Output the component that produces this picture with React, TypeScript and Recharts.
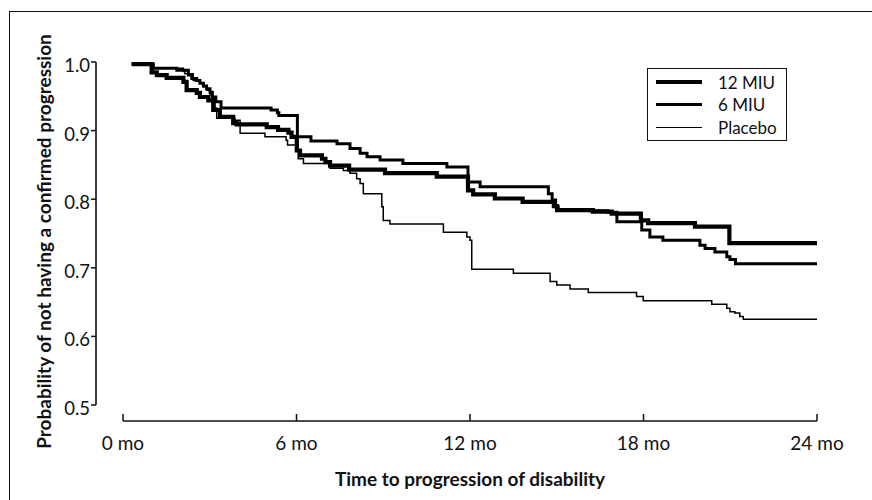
import { Label, Legend, Line, LineChart, ReferenceLine, XAxis, YAxis } from "recharts"

// time axis (months) and survival probability ticks
const monthTicks = [0, 6, 12, 18, 24]
const probTicks = [0.5, 0.6, 0.7, 0.8, 0.9, 1.0]

// Kaplan-Meier steps
const miu12Months = [0.3, 0.99, 1.17, 1.51, 2.09, 2.2, 2.55, 2.66, 2.95, 3.12, 3.35, 3.81, 3.93, 4.97, 5.36, 5.72, 5.83, 6.01, 6.12, 6.88, 7.0, 7.16, 7.82, 9.06, 10.85, 11.93, 12.11, 12.86, 13.82, 14.9, 15.01, 16.25, 16.9, 17.91, 18.16, 19.78, 20.97, 24]
const miu12Prob = [0.997, 0.985, 0.981, 0.977, 0.971, 0.959, 0.955, 0.949, 0.944, 0.93, 0.92, 0.911, 0.909, 0.905, 0.901, 0.897, 0.891, 0.871, 0.864, 0.859, 0.854, 0.849, 0.843, 0.838, 0.833, 0.813, 0.807, 0.801, 0.796, 0.79, 0.784, 0.782, 0.779, 0.769, 0.765, 0.76, 0.736, 0.736]

const miu6Months = [0.3, 1.05, 1.86, 2.26, 2.38, 2.55, 2.66, 2.78, 2.89, 3.01, 3.09, 3.21, 3.39, 5.12, 5.34, 5.39, 6.03, 6.5, 7.4, 7.85, 8.2, 8.44, 8.89, 9.68, 11.2, 11.93, 12.35, 14.71, 14.84, 14.96, 15.05, 16.15, 16.77, 17.08, 17.94, 18.22, 18.67, 19.95, 20.13, 20.47, 20.88, 20.99, 21.18, 24]
const miu6Prob = [0.997, 0.991, 0.988, 0.981, 0.976, 0.973, 0.969, 0.965, 0.961, 0.956, 0.949, 0.942, 0.933, 0.93, 0.926, 0.922, 0.891, 0.885, 0.881, 0.874, 0.867, 0.862, 0.857, 0.852, 0.847, 0.825, 0.818, 0.808, 0.799, 0.789, 0.785, 0.783, 0.781, 0.767, 0.755, 0.745, 0.74, 0.733, 0.728, 0.723, 0.716, 0.712, 0.706, 0.706]

const placeboMonths = [0.3, 0.99, 2.09, 2.14, 2.43, 2.66, 2.78, 2.9, 3.01, 3.12, 3.18, 3.24, 3.87, 4.05, 4.91, 5.64, 5.69, 6.06, 6.24, 7.16, 7.62, 7.85, 8.08, 8.2, 8.31, 8.95, 9.0, 9.23, 11.08, 11.89, 12.0, 12.06, 13.5, 14.77, 15.0, 15.46, 16.09, 17.76, 17.99, 20.36, 20.88, 20.99, 21.16, 21.33, 21.45, 24]
const placeboProb = [0.997, 0.991, 0.986, 0.983, 0.973, 0.969, 0.964, 0.959, 0.952, 0.944, 0.933, 0.918, 0.915, 0.896, 0.891, 0.886, 0.879, 0.859, 0.852, 0.845, 0.842, 0.838, 0.83, 0.823, 0.808, 0.789, 0.769, 0.764, 0.752, 0.745, 0.74, 0.698, 0.692, 0.68, 0.675, 0.669, 0.664, 0.658, 0.652, 0.647, 0.641, 0.636, 0.634, 0.629, 0.625, 0.624]

const toRows = (months: number[], prob: number[]) => months.map((t, i) => ({ t, p: prob[i] }))

// legend order (top to bottom)
const series = [
  { key: "miu12", name: "12 MIU", width: 4.2, rows: toRows(miu12Months, miu12Prob) },
  { key: "miu6", name: "6 MIU", width: 3, rows: toRows(miu6Months, miu6Prob) },
  { key: "placebo", name: "Placebo", width: 1.5, rows: toRows(placeboMonths, placeboProb) },
]

// axes are drawn detached from each other, so the domains run a bit past the ticks
const X_MIN = -0.934
const Y_MIN = 0.4767

const FONT = "Lato, 'Open Sans', sans-serif"
const INK = "#111"

function MonthTick(props: any) {
  const { x, y, payload } = props
  return (
    <g>
      <line x1={x} y1={y} x2={x} y2={y - 7} stroke={INK} strokeWidth={1.5} />
      <text x={x} y={y + 29} textAnchor="middle" fontSize={19} fill={INK} fontFamily={FONT}>
        {`${payload.value} mo`}
      </text>
    </g>
  )
}

function ProbTick(props: any) {
  const { x, y, payload } = props
  return (
    <text x={x} y={y + 10} textAnchor="end" fontSize={18.5} fill={INK} fontFamily={FONT}>
      {payload.value.toFixed(1)}
    </text>
  )
}

function KeyBox() {
  return (
    <div
      style={{
        width: 140,
        height: 73,
        boxSizing: "border-box",
        border: `1.5px solid ${INK}`,
        background: "#fff",
        padding: "2px 0 0 8px",
        fontFamily: FONT,
      }}
    >
      {series.map((s) => (
        <div key={s.key} style={{ display: "flex", alignItems: "center", height: 22.5 }}>
          <span style={{ display: "inline-block", width: 46, borderTop: `${s.width}px solid #000` }} />
          <span style={{ marginLeft: 16, fontSize: 17, color: INK }}>{s.name}</span>
        </div>
      ))}
    </div>
  )
}

export default function App() {
  return (
    <div style={{ position: "absolute", left: 0, top: 0, width: 872, height: 500, background: "#fff" }}>
      <div
        style={{
          position: "absolute",
          left: 9,
          top: 11,
          width: 880,
          height: 500,
          borderTop: `1px solid ${INK}`,
          borderLeft: `1.5px solid ${INK}`,
        }}
      />
      <LineChart width={872} height={500} margin={{ top: 62, right: 55, bottom: 0, left: 0 }}>
        <XAxis
          dataKey="t"
          type="number"
          domain={[X_MIN, 24]}
          ticks={monthTicks}
          allowDataOverflow
          axisLine={false}
          tickLine={false}
          tickSize={0}
          tickMargin={0}
          height={79}
          tick={<MonthTick />}
        >
          <Label
            content={(props: any) => {
              const vb = props.viewBox
              return (
                <text
                  x={vb.x + (vb.width + 27) / 2}
                  y={vb.y + 65}
                  textAnchor="middle"
                  fontSize={19}
                  fontWeight={700}
                  fill={INK}
                  fontFamily={FONT}
                >
                  Time to progression of disability
                </text>
              )
            }}
          />
        </XAxis>
        <YAxis
          dataKey="p"
          type="number"
          domain={[Y_MIN, 1]}
          ticks={probTicks}
          allowDataOverflow
          width={96}
          axisLine={false}
          tickSize={5}
          tickMargin={1}
          tickLine={{ stroke: INK, strokeWidth: 1.5 }}
          tick={<ProbTick />}
        >
          <Label
            content={(props: any) => {
              const vb = props.viewBox
              const cx = 43
              const cy = vb.y + vb.height / 2
              return (
                <text
                  x={cx}
                  y={cy}
                  transform={`rotate(-90, ${cx}, ${cy})`}
                  textAnchor="middle"
                  dominantBaseline="central"
                  fontSize={19}
                  fontWeight={700}
                  fill={INK}
                  fontFamily={FONT}
                >
                  Probability of not having a confirmed progression
                </text>
              )
            }}
          />
        </YAxis>
        <ReferenceLine
          segment={[
            { x: 0, y: Y_MIN },
            { x: 24, y: Y_MIN },
          ]}
          stroke={INK}
          strokeWidth={1.6}
        />
        <ReferenceLine
          segment={[
            { x: X_MIN, y: 0.5 },
            { x: X_MIN, y: 1 },
          ]}
          stroke={INK}
          strokeWidth={1.6}
        />
        <Legend
          layout="vertical"
          align="center"
          verticalAlign="middle"
          content={<KeyBox />}
          wrapperStyle={{ left: 647, top: 68, width: 140, height: 73 }}
        />
        {[...series].reverse().map((s) => (
          <Line
            key={s.key}
            data={s.rows}
            dataKey="p"
            name={s.name}
            type="stepAfter"
            stroke="#000"
            strokeWidth={s.width}
            strokeLinejoin="miter"
            dot={false}
            activeDot={false}
            isAnimationActive={false}
          />
        ))}
      </LineChart>
    </div>
  )
}
